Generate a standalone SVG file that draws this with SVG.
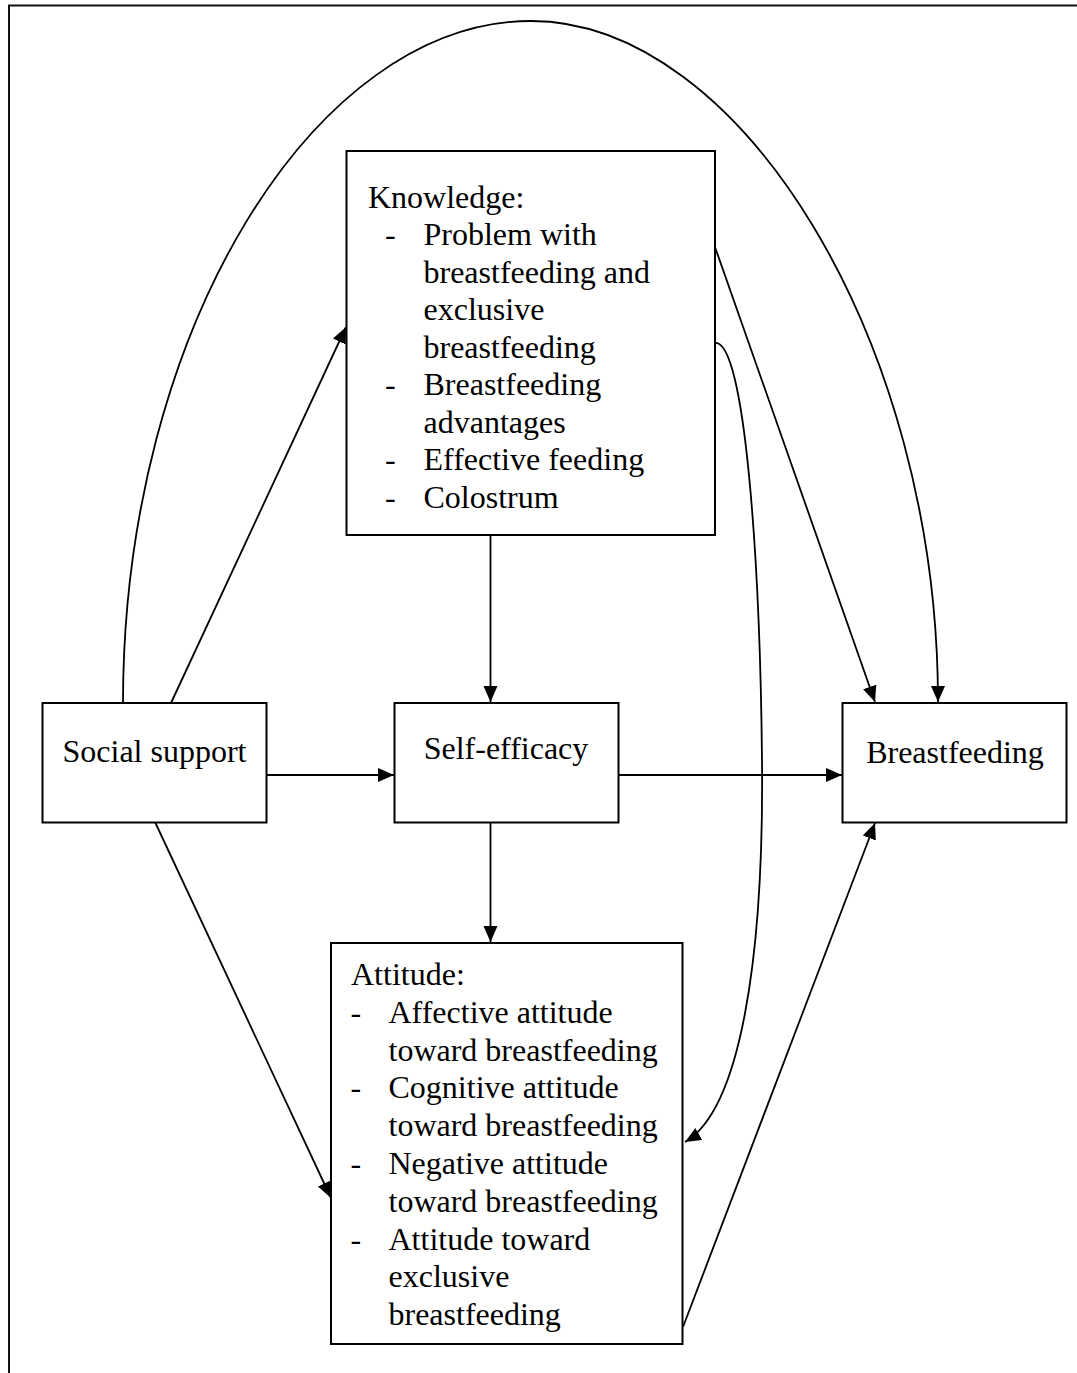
<svg xmlns="http://www.w3.org/2000/svg" width="1077" height="1373" viewBox="0 0 1077 1373">
<defs>
<style>
.box{fill:#fff;stroke:#000;stroke-width:2}
.t{font-family:"Liberation Serif","Times New Roman",serif;font-size:32px;fill:#000}
.c{text-anchor:middle}
.ln{fill:none;stroke:#000;stroke-width:1.8}
.frame{fill:none;stroke:#111;stroke-width:2}
</style>
<marker id="ah" markerUnits="userSpaceOnUse" markerWidth="18" markerHeight="16" refX="16" refY="7" orient="auto" viewBox="0 0 18 16">
<path d="M0,0 L16,7 L0,14 z" fill="#000"/>
</marker>
</defs>
<rect width="1077" height="1373" fill="#fff"/>
<path class="frame" d="M9,1373 V5.5 H1077"/>
<g id="connectors">
<path class="ln" marker-end="url(#ah)" d="M266,775 L394,775"/>
<path class="ln" marker-end="url(#ah)" d="M619,775 L842,775"/>
<path class="ln" marker-end="url(#ah)" d="M490.5,535 L490.5,702"/>
<path class="ln" marker-end="url(#ah)" d="M490.5,822 L490.5,942"/>
<path class="ln" marker-end="url(#ah)" d="M171,703 L346,327"/>
<path class="ln" marker-end="url(#ah)" d="M155,822 L331,1198"/>
<path class="ln" marker-end="url(#ah)" d="M715,247 L875,702"/>
<path class="ln" marker-end="url(#ah)" d="M683,1327 L875,823"/>
<path class="ln" marker-end="url(#ah)" d="M123,703 C123,330 315,21 531,21 C740,21 938,340 938,702"/>
<path class="ln" marker-end="url(#ah)" d="M715,343 C745,340 760,560 762,760 C764,960 740,1110 685,1142"/>
</g>
<g id="knowledge">
<rect class="box" x="346.5" y="151" width="368.5" height="384"/>
<text class="t" x="368" y="207.5">Knowledge:</text>
<text class="t" x="385" y="245">-</text><text class="t" x="423.5" y="245">Problem with</text>
<text class="t" x="423.5" y="282.5">breastfeeding and</text>
<text class="t" x="423.5" y="320">exclusive</text>
<text class="t" x="423.5" y="357.5">breastfeeding</text>
<text class="t" x="385" y="395">-</text><text class="t" x="423.5" y="395">Breastfeeding</text>
<text class="t" x="423.5" y="432.5">advantages</text>
<text class="t" x="385" y="470">-</text><text class="t" x="423.5" y="470">Effective feeding</text>
<text class="t" x="385" y="507.5">-</text><text class="t" x="423.5" y="507.5">Colostrum</text>
</g>
<g id="social-support">
<rect class="box" x="42.5" y="703" width="224" height="119.5"/>
<text class="t c" x="154.5" y="762">Social support</text>
</g>
<g id="self-efficacy">
<rect class="box" x="394.5" y="703" width="224" height="119.5"/>
<text class="t c" x="506" y="759">Self-efficacy</text>
</g>
<g id="breastfeeding">
<rect class="box" x="842.5" y="703" width="224" height="119.5"/>
<text class="t c" x="955" y="763">Breastfeeding</text>
</g>
<g id="attitude">
<rect class="box" x="331" y="943" width="351.5" height="401"/>
<text class="t" x="351" y="985">Attitude:</text>
<text class="t" x="350.5" y="1022.8">-</text><text class="t" x="388.5" y="1022.8">Affective attitude</text>
<text class="t" x="388.5" y="1060.6">toward breastfeeding</text>
<text class="t" x="350.5" y="1098.4">-</text><text class="t" x="388.5" y="1098.4">Cognitive attitude</text>
<text class="t" x="388.5" y="1136.2">toward breastfeeding</text>
<text class="t" x="350.5" y="1174">-</text><text class="t" x="388.5" y="1174">Negative attitude</text>
<text class="t" x="388.5" y="1211.8">toward breastfeeding</text>
<text class="t" x="350.5" y="1249.6">-</text><text class="t" x="388.5" y="1249.6">Attitude toward</text>
<text class="t" x="388.5" y="1287.4">exclusive</text>
<text class="t" x="388.5" y="1325.2">breastfeeding</text>
</g>
</svg>
